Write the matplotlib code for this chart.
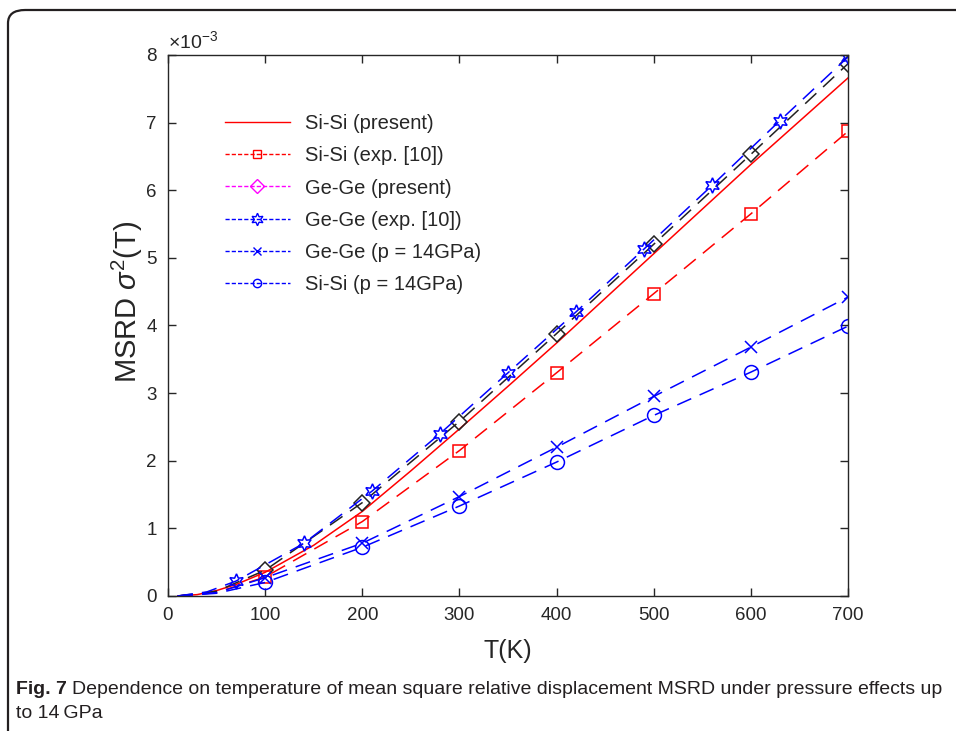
import matplotlib
matplotlib.use("Agg")
import matplotlib.pyplot as plt
from matplotlib.lines import Line2D
from matplotlib.patches import FancyBboxPatch

plt.rcParams['font.family'] = ['Liberation Sans', 'DejaVu Sans']
plt.rcParams['mathtext.fontset'] = 'custom'
plt.rcParams['mathtext.rm'] = 'Liberation Sans'
plt.rcParams['mathtext.it'] = 'Liberation Sans:italic'

# Si-Si (present), smooth calculated curve
t_si = [10, 30, 50, 70, 100, 150, 200, 250, 300, 350, 400, 450, 500, 550, 600, 650, 700]
msrd_si = [0.0, 0.02, 0.08, 0.17, 0.35, 0.75, 1.25, 1.85, 2.47, 3.1, 3.74, 4.4, 5.06, 5.72, 6.38, 7.02, 7.66]

# Si-Si (exp. [10])
t_si_exp = [10, 50, 100, 200, 300, 400, 500, 600, 700]
msrd_si_exp = [0.0, 0.05, 0.28, 1.1, 2.15, 3.3, 4.47, 5.65, 6.87]

# Ge-Ge (present)
t_ge = [10, 50, 100, 200, 300, 400, 500, 600, 700]
msrd_ge = [0.0, 0.07, 0.38, 1.38, 2.58, 3.88, 5.2, 6.53, 7.87]

# Ge-Ge (exp. [10])
t_ge_exp = [10, 40, 70, 140, 210, 280, 350, 420, 490, 560, 630, 700]
msrd_ge_exp = [0.0, 0.06, 0.22, 0.78, 1.55, 2.4, 3.3, 4.2, 5.13, 6.07, 7.03, 7.97]

# Ge-Ge (p = 14GPa)
t_ge_p = [10, 50, 100, 200, 300, 400, 500, 600, 700]
msrd_ge_p = [0.0, 0.05, 0.27, 0.78, 1.47, 2.2, 2.95, 3.68, 4.42]

# Si-Si (p = 14GPa)
t_si_p = [10, 50, 100, 200, 300, 400, 500, 600, 700]
msrd_si_p = [0.0, 0.04, 0.2, 0.72, 1.33, 1.98, 2.67, 3.31, 3.99]

labels = ['Si-Si (present)', 'Si-Si (exp. [10])', 'Ge-Ge (present)',
          'Ge-Ge (exp. [10])', 'Ge-Ge (p = 14GPa)', 'Si-Si (p = 14GPa)']

scale = 1e-3
tc = '#262626'
dash = (10, 6)

fig = plt.figure(figsize=(9.56, 7.31), dpi=100)
ax = fig.add_axes([0.1757, 0.1847, 0.7113, 0.7401])

hexagram = (6, 1, 0)

ax.plot(t_si, [v * scale for v in msrd_si], color='red', lw=1.1)
ax.plot(t_si_exp, [v * scale for v in msrd_si_exp], color='red', lw=1.1,
        dashes=dash, marker='s', ms=8, mfc='none', mew=1.1, markevery=list(range(2, 9)))
ax.plot(t_ge, [v * scale for v in msrd_ge], color='#222222', lw=1.1,
        dashes=dash, marker='D', ms=8, mfc='none', mew=1.1, markevery=list(range(2, 9)))
ax.plot(t_ge_exp, [v * scale for v in msrd_ge_exp], color='blue', lw=1.1,
        dashes=dash, marker=hexagram, ms=11, mfc='none', mew=1.1, markevery=list(range(2, 12)))
ax.plot(t_ge_p, [v * scale for v in msrd_ge_p], color='blue', lw=1.1,
        dashes=dash, marker='x', ms=9, mew=1.1, markevery=list(range(2, 9)))
ax.plot(t_si_p, [v * scale for v in msrd_si_p], color='blue', lw=1.1,
        dashes=dash, marker='o', ms=10, mfc='none', mew=1.1, markevery=list(range(2, 9)))

ax.set_xlim(0, 700)
ax.set_ylim(0, 8e-3)
ax.set_xticks(range(0, 701, 100))
yt = [i * 1e-3 for i in range(9)]
ax.set_yticks(yt)
ax.set_yticklabels([str(i) for i in range(9)])
ax.tick_params(direction='in', length=6, width=1, colors=tc, labelsize=13.5,
               top=True, right=True, pad=8)
for s in ax.spines.values():
    s.set_color(tc)
    s.set_linewidth(1)

ax.text(0.0, 1.006, r'$\times 10^{-3}$', transform=ax.transAxes, fontsize=14,
        color=tc, ha='left', va='bottom')
ax.set_xlabel('T(K)', fontsize=18, color=tc)
ax.xaxis.set_label_coords(0.5, -0.079)
ax.set_ylabel(r'MSRD $\sigma^2$(T)', fontsize=21, color=tc)
ax.yaxis.set_label_coords(-0.034, 0.543)

# legend handles (Ge-Ge present appears magenta in the legend)
ld = (3, 1.5)
handles = [
    Line2D([], [], color='red', lw=1),
    Line2D([], [], color='red', lw=1, dashes=ld, marker='s', ms=6, mfc='none'),
    Line2D([], [], color='magenta', lw=1, dashes=ld, marker='D', ms=7, mfc='none'),
    Line2D([], [], color='blue', lw=1, dashes=ld, marker=hexagram, ms=9, mfc='none'),
    Line2D([], [], color='blue', lw=1, dashes=ld, marker='x', ms=6),
    Line2D([], [], color='blue', lw=1, dashes=ld, marker='o', ms=6, mfc='none'),
]
leg = ax.legend(handles, labels, loc='upper left', bbox_to_anchor=(0.084, 0.891),
                frameon=False, fontsize=14.5, handlelength=3.2, handletextpad=0.75,
                labelspacing=0.66, borderpad=0, borderaxespad=0)
for txt in leg.get_texts():
    txt.set_color(tc)

# frame around the figure panel
frame = FancyBboxPatch((8 / 956, -0.2), 1.2, (731 - 10) / 731 + 0.2,
                       boxstyle='round,pad=0,rounding_size=0.018',
                       transform=fig.transFigure, fill=False,
                       edgecolor='#231f20', lw=1.6, clip_on=False)
fig.patches.append(frame)

# caption
cap_font = ['Liberation Sans Narrow', 'Liberation Sans', 'DejaVu Sans']
fig.canvas.draw()
r = fig.canvas.get_renderer()
t1 = fig.text(16 / 956, 1 - 689 / 731, 'Fig. 7', fontsize=14, fontweight='bold',
              family=cap_font, color='#231f20', va='center')
bb = t1.get_window_extent(renderer=r)
fig.text((bb.x1 + 5) / 956, 1 - 689 / 731,
         'Dependence on temperature of mean square relative displacement MSRD under pressure effects up',
         fontsize=14, family=cap_font, color='#231f20', va='center')
fig.text(16 / 956, 1 - 713 / 731, 'to 14\u2009GPa', fontsize=14, family=cap_font,
         color='#231f20', va='center')

fig.savefig('out.png', dpi=100)
